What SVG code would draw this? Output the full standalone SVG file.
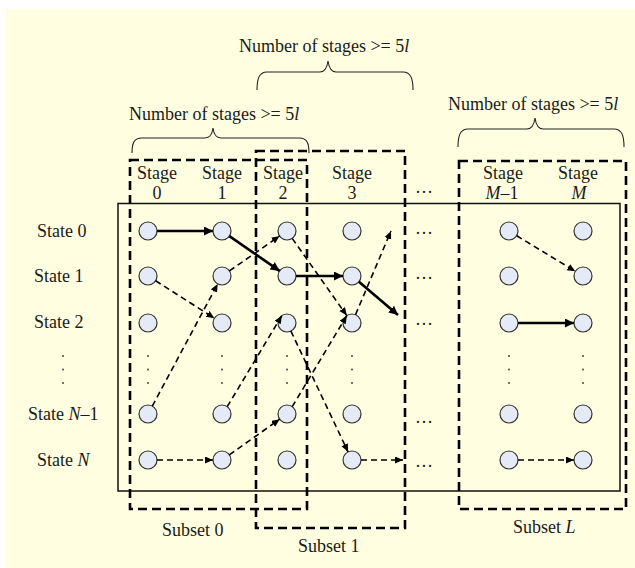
<svg xmlns="http://www.w3.org/2000/svg" width="635" height="568" viewBox="0 0 635 568">
<style>
text{font-family:"Liberation Serif","Times New Roman",serif;font-size:18px;fill:#1a1a1a}
.m{text-anchor:middle}
.i{font-style:italic}
.nd{fill:#E4EAF6;stroke:#333;stroke-width:1.2}
.box{fill:none;stroke:#000;stroke-width:2.6;stroke-dasharray:9 5}
.frame{fill:none;stroke:#111;stroke-width:1.5}
.brace{fill:none;stroke:#222;stroke-width:1.1}
.th{stroke:#000;stroke-width:2.6;fill:none;marker-end:url(#ah2)}
.da{stroke:#000;stroke-width:1.6;fill:none;stroke-dasharray:6 4;marker-end:url(#ah)}
.dot{fill:#333}
</style>
<defs>
<marker id="ah" markerUnits="userSpaceOnUse" markerWidth="9" markerHeight="8" refX="8" refY="3.5" orient="auto"><path d="M0,0 L8,3.5 L0,7 z" fill="#000"/></marker>
<marker id="ah2" markerUnits="userSpaceOnUse" markerWidth="11" markerHeight="10" refX="9" refY="4.5" orient="auto"><path d="M0,0 L9,4.5 L0,9 z" fill="#000"/></marker>
</defs>
<rect x="6" y="9" width="629" height="559" fill="#FFFEE0"/>

<g id="frame"><rect class="frame" x="118" y="203.5" width="502" height="287.5"/></g>

<g id="braces">
<path class="brace" d="M132,153 C132,143 134,138 142,138 L205,138 C210,138 212,135 213,128 C214,135 216,138 221,138 L299,138 C307,138 309,143 309,153"/>
<path class="brace" d="M257,90 C257,79 259,72 267,72 L320,72 C325,72 327,68 328,61 C329,68 331,72 336,72 L403,72 C411,72 413,79 413,90"/>
<path class="brace" d="M458,147 C458,136 460,129 468,129 L527,129 C532,129 534,125 535,118 C536,125 538,129 543,129 L614,129 C622,129 624,136 624,147"/>
<text x="129" y="120">Number of stages &gt;= 5<tspan class="i">l</tspan></text>
<text x="239" y="52">Number of stages &gt;= 5<tspan class="i">l</tspan></text>
<text x="448" y="110">Number of stages &gt;= 5<tspan class="i">l</tspan></text>
</g>

<g id="stage-labels">
<text class="m" x="157" y="179">Stage</text><text class="m" x="157" y="199">0</text>
<text class="m" x="222" y="179">Stage</text><text class="m" x="222" y="199">1</text>
<text class="m" x="283" y="179">Stage</text><text class="m" x="283" y="199">2</text>
<text class="m" x="352" y="179">Stage</text><text class="m" x="352" y="199">3</text>
<text class="m" x="424" y="193">…</text>
<text class="m" x="503" y="179">Stage</text><text class="m" x="502" y="199"><tspan class="i">M</tspan>–1</text>
<text class="m" x="578" y="179">Stage</text><text class="m i" x="579" y="199">M</text>
</g>

<g id="state-labels">
<text x="37" y="237">State 0</text>
<text x="34" y="282">State 1</text>
<text x="34" y="328">State 2</text>
<text x="28" y="420">State <tspan class="i">N</tspan>–1</text>
<text x="37" y="466">State <tspan class="i">N</tspan></text>
</g>

<g id="vdots">
<circle class="dot" cx="63" cy="356" r="0.9"/><circle class="dot" cx="63" cy="369.5" r="0.9"/><circle class="dot" cx="63" cy="383" r="0.9"/>
<circle class="dot" cx="148" cy="356" r="0.9"/><circle class="dot" cx="148" cy="369.5" r="0.9"/><circle class="dot" cx="148" cy="383" r="0.9"/>
<circle class="dot" cx="222" cy="356" r="0.9"/><circle class="dot" cx="222" cy="369.5" r="0.9"/><circle class="dot" cx="222" cy="383" r="0.9"/>
<circle class="dot" cx="287" cy="356" r="0.9"/><circle class="dot" cx="287" cy="369.5" r="0.9"/><circle class="dot" cx="287" cy="383" r="0.9"/>
<circle class="dot" cx="352" cy="356" r="0.9"/><circle class="dot" cx="352" cy="369.5" r="0.9"/><circle class="dot" cx="352" cy="383" r="0.9"/>
<circle class="dot" cx="509" cy="356" r="0.9"/><circle class="dot" cx="509" cy="369.5" r="0.9"/><circle class="dot" cx="509" cy="383" r="0.9"/>
<circle class="dot" cx="583" cy="356" r="0.9"/><circle class="dot" cx="583" cy="369.5" r="0.9"/><circle class="dot" cx="583" cy="383" r="0.9"/>
</g>

<g id="ellipses">
<text class="m" x="424" y="234">…</text>
<text class="m" x="424" y="279">…</text>
<text class="m" x="424" y="325">…</text>
<text class="m" x="424" y="423">…</text>
<text class="m" x="424" y="467">…</text>
</g>

<g id="c0-s0"><circle class="nd" cx="148" cy="231" r="9"/></g>
<g id="c0-s1"><circle class="nd" cx="148" cy="276" r="9"/></g>
<g id="c0-s2"><circle class="nd" cx="148" cy="323" r="9"/></g>
<g id="c0-sN1"><circle class="nd" cx="148" cy="414" r="9"/></g>
<g id="c0-sN"><circle class="nd" cx="148" cy="460" r="9"/></g>
<g id="c1-s0"><circle class="nd" cx="222" cy="231" r="9"/></g>
<g id="c1-s1"><circle class="nd" cx="222" cy="276" r="9"/></g>
<g id="c1-s2"><circle class="nd" cx="222" cy="323" r="9"/></g>
<g id="c1-sN1"><circle class="nd" cx="222" cy="414" r="9"/></g>
<g id="c1-sN"><circle class="nd" cx="222" cy="460" r="9"/></g>
<g id="c2-s0"><circle class="nd" cx="287" cy="231" r="9"/></g>
<g id="c2-s1"><circle class="nd" cx="287" cy="276" r="9"/></g>
<g id="c2-s2"><circle class="nd" cx="287" cy="323" r="9"/></g>
<g id="c2-sN1"><circle class="nd" cx="287" cy="414" r="9"/></g>
<g id="c2-sN"><circle class="nd" cx="287" cy="460" r="9"/></g>
<g id="c3-s0"><circle class="nd" cx="352" cy="231" r="9"/></g>
<g id="c3-s1"><circle class="nd" cx="352" cy="276" r="9"/></g>
<g id="c3-s2"><circle class="nd" cx="352" cy="323" r="9"/></g>
<g id="c3-sN1"><circle class="nd" cx="352" cy="414" r="9"/></g>
<g id="c3-sN"><circle class="nd" cx="352" cy="460" r="9"/></g>
<g id="cM1-s0"><circle class="nd" cx="509" cy="231" r="9"/></g>
<g id="cM1-s1"><circle class="nd" cx="509" cy="276" r="9"/></g>
<g id="cM1-s2"><circle class="nd" cx="509" cy="323" r="9"/></g>
<g id="cM1-sN1"><circle class="nd" cx="509" cy="414" r="9"/></g>
<g id="cM1-sN"><circle class="nd" cx="509" cy="460" r="9"/></g>
<g id="cM-s0"><circle class="nd" cx="583" cy="231" r="9"/></g>
<g id="cM-s1"><circle class="nd" cx="583" cy="276" r="9"/></g>
<g id="cM-s2"><circle class="nd" cx="583" cy="323" r="9"/></g>
<g id="cM-sN1"><circle class="nd" cx="583" cy="414" r="9"/></g>
<g id="cM-sN"><circle class="nd" cx="583" cy="460" r="9"/></g>

<g id="connectors">
<line class="th" x1="157" y1="231" x2="213" y2="231"/>
<line class="th" x1="229.4" y1="236.1" x2="279.6" y2="270.9"/>
<line class="th" x1="296" y1="276" x2="343" y2="276"/>
<line class="th" x1="358.9" y1="281.8" x2="398" y2="315"/>
<line class="th" x1="518" y1="323" x2="574" y2="323"/>
<line class="da" x1="155.6" y1="280.8" x2="214.4" y2="318.2"/>
<line class="da" x1="152.3" y1="406.1" x2="217.7" y2="283.9"/>
<line class="da" x1="229.4" y1="270.9" x2="279.6" y2="236.1"/>
<line class="da" x1="227.2" y1="406.7" x2="281.8" y2="315.7"/>
<line class="da" x1="229.3" y1="454.8" x2="279.7" y2="419.2"/>
<line class="da" x1="157" y1="460" x2="213" y2="460"/>
<line class="da" x1="292.2" y1="238.4" x2="346.8" y2="315.6"/>
<line class="da" x1="290.9" y1="331.1" x2="348.1" y2="451.9"/>
<line class="da" x1="292.2" y1="406.7" x2="346.8" y2="315.7"/>
<line class="da" x1="355.5" y1="314.7" x2="391" y2="231"/>
<line class="da" x1="361" y1="460" x2="403" y2="460"/>
<line class="da" x1="516.7" y1="235.7" x2="575.3" y2="271.3"/>
<line class="da" x1="518" y1="460" x2="574" y2="460"/>
</g>

<g id="subset-0"><rect class="box" x="130" y="160" width="177" height="349"/><text x="162" y="536">Subset 0</text></g>
<g id="subset-1"><rect class="box" x="256" y="151" width="149" height="377"/><text x="298" y="552">Subset 1</text></g>
<g id="subset-L"><rect class="box" x="459" y="161" width="167" height="348"/><text x="513" y="533">Subset <tspan class="i">L</tspan></text></g>
</svg>
